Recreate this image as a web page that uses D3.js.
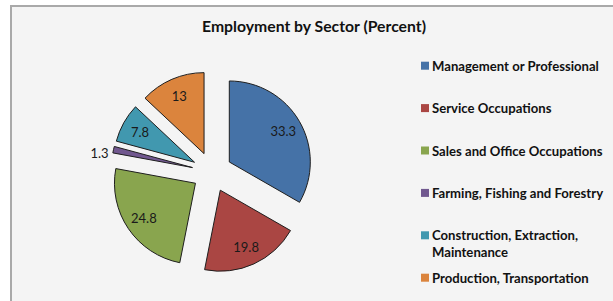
<!DOCTYPE html>
<html>
<head>
<meta charset="utf-8">
<script src="https://cdn.jsdelivr.net/npm/d3@7"></script>
<style>
  html, body { margin: 0; padding: 0; background: #ffffff; }
  svg { display: block; }
  text { font-family: Lato, "Open Sans", "Noto Sans", sans-serif; }
</style>
</head>
<body>
<svg id="chart" width="613" height="301"></svg>
<script>
// ---- data ----
const title = "Employment by Sector (Percent)";
const categories = [
  "Management or Professional",
  "Service Occupations",
  "Sales and Office Occupations",
  "Farming, Fishing and Forestry",
  "Construction, Extraction, Maintenance",
  "Production, Transportation"
];
const legendLines = [
  ["Management or Professional"],
  ["Service Occupations"],
  ["Sales and Office Occupations"],
  ["Farming, Fishing and Forestry"],
  ["Construction, Extraction,", "Maintenance"],
  ["Production, Transportation"]
];
const values = [33.3, 19.8, 24.8, 1.3, 7.8, 13];
const colors = ["#4572A7", "#AA4643", "#89A54E", "#71588F", "#4198AF", "#DB843D"];

// ---- layout ----
const W = 613, H = 301;
const svg = d3.select("#chart");

// chart area background + border
svg.append("rect").attr("x", 11).attr("y", 6).attr("width", W + 20).attr("height", H + 20)
  .attr("fill", "#f4f4f4").attr("stroke", "#a9a9a9").attr("stroke-width", 2);

// helper: fit font size to target width
function fitSize(sel, target, base) {
  const w = sel.node().getComputedTextLength();
  return base * target / w;
}

// title
const t = svg.append("text").attr("x", 314).attr("y", 32)
  .attr("text-anchor", "middle").attr("font-weight", "bold")
  .attr("font-size", 16).attr("fill", "#111").text(title);
t.attr("font-size", fitSize(t, 224, 16));

// pie
const cx = 212, cy = 172, R = 81, explode = 20;
const pie = d3.pie().sort(null).value(d => d)(values);
const arc = d3.arc().innerRadius(0).outerRadius(R);
const g = svg.append("g").attr("transform", `translate(${cx},${cy})`);

pie.forEach((p, i) => {
  const mid = (p.startAngle + p.endAngle) / 2;
  const dx = explode * Math.sin(mid), dy = -explode * Math.cos(mid);
  const sg = g.append("g").attr("transform", `translate(${dx},${dy})`);
  sg.append("path").attr("d", arc(p)).attr("fill", colors[i])
    .attr("stroke", "#1e1e1e").attr("stroke-width", 1).attr("stroke-linejoin", "miter");
  const lbl = sg.append("text").attr("font-size", 13).attr("fill", "#1a1a1a")
    .attr("dominant-baseline", "central").text(values[i]);
  if (p.endAngle - p.startAngle > 0.2) {
    const r = R * 0.77;
    lbl.attr("x", r * Math.sin(mid)).attr("y", -r * Math.cos(mid)).attr("text-anchor", "middle");
  } else {
    const r = R + 5;
    lbl.attr("x", r * Math.sin(mid)).attr("y", -r * Math.cos(mid) + 4).attr("text-anchor", "end");
  }
});

// legend
const legX = 421, legY0 = 65.7, legStep = 42.4, lineH = 17;
const leg = svg.append("g");
let legSize = 12;
const probe = leg.append("text").attr("font-weight", "bold").attr("font-size", 12).text(categories[0]);
legSize = fitSize(probe, 167, 12);
probe.remove();

legendLines.forEach((lines, i) => {
  const y = legY0 + i * legStep;
  leg.append("rect").attr("x", legX).attr("y", y - 4).attr("width", 8).attr("height", 8)
    .attr("fill", colors[i]);
  const tx = leg.append("text").attr("x", legX + 11).attr("y", y)
    .attr("font-weight", "bold").attr("font-size", legSize).attr("fill", "#111")
    .attr("dominant-baseline", "central");
  lines.forEach((ln, j) => {
    tx.append("tspan").attr("x", legX + 11).attr("dy", j === 0 ? 0 : lineH).text(ln);
  });
});
</script>
</body>
</html>
